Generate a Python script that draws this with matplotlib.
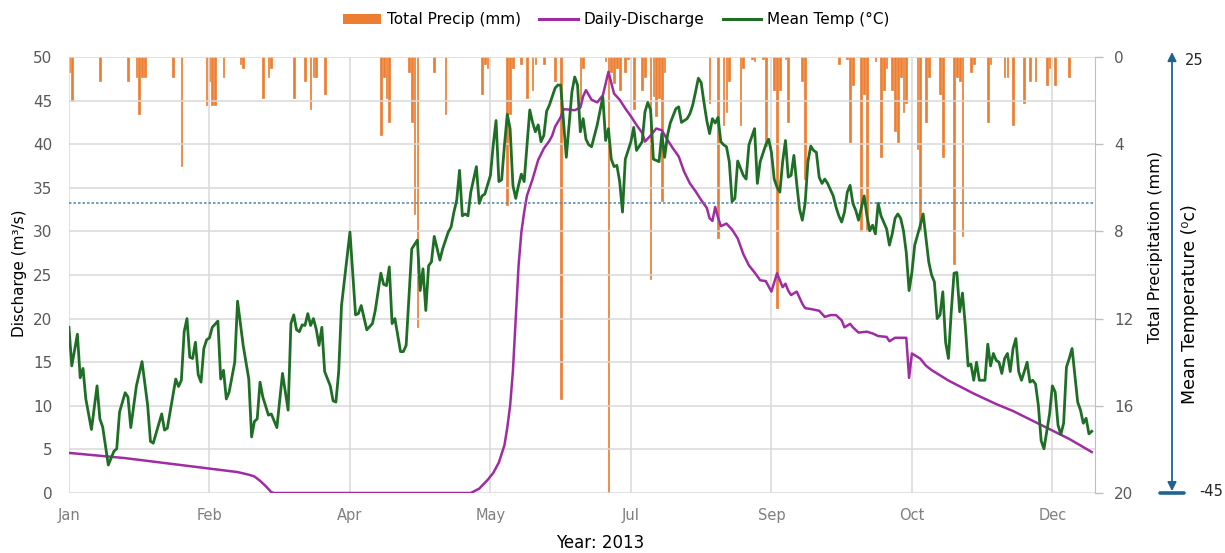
import numpy as np
import pandas as pd
import matplotlib
matplotlib.use("Agg")
import matplotlib.pyplot as plt
from matplotlib.patches import Patch
from matplotlib.lines import Line2D

# day of year (0 = 1 Jan 2013)
temp_day = [0, 1, 3, 4, 5, 6, 8, 10, 11, 12, 14, 16, 17, 18, 20, 21, 22, 24, 26, 28, 29, 30,
            33, 34, 35, 38, 39, 40, 41, 42, 43, 44, 45, 46, 47, 48, 49, 50, 51, 53, 54, 55,
            56, 57, 59, 60, 62, 64, 65, 66, 67, 68, 69, 71, 72, 74, 76, 78, 79, 80, 81, 82,
            83, 84, 85, 86, 87, 88, 89, 90, 91, 93, 94, 95, 96, 97, 100, 102, 103, 104, 106,
            108, 109, 111, 112, 113, 114, 115, 116, 118, 119, 120, 122, 123, 124, 125, 126,
            127, 128, 129, 130, 132, 133, 135, 136, 137, 138, 139, 140, 141, 142, 143, 145,
            146, 147, 148, 150, 151, 152, 153, 154, 155, 156, 157, 158, 159, 160, 161, 162,
            164, 165, 166, 167, 168, 169, 170, 171, 173, 174, 175, 177, 179, 180, 181, 182,
            183, 184, 185, 186, 188, 190, 191, 192, 193, 194, 195, 196, 197, 198, 200, 201,
            202, 204, 205, 206, 207, 208, 210, 211, 212, 213, 214, 216, 217, 218, 220, 221,
            222, 223, 224, 225, 226, 227, 228, 229, 230, 231, 232, 233, 234, 235, 236, 237,
            238, 240, 241, 242, 244, 245, 246, 248, 249, 250, 251, 252, 253, 254, 255, 256,
            257, 258, 259, 260, 261, 262, 263, 264, 265, 266, 267, 268, 269, 270, 272, 273,
            274, 275, 276, 277, 278, 279, 280, 281, 283, 284, 285, 286, 287, 288, 289, 291,
            292, 293, 294, 295, 296, 297, 298, 299, 300, 301, 303, 304, 305, 306, 307, 308,
            309, 310, 311, 312, 313, 314, 315, 316, 317, 318, 319, 320, 321, 322, 323, 324,
            326, 327, 328, 329, 330, 331, 332, 333, 334, 335, 336, 337, 338, 339, 340, 341,
            342, 343, 344, 345, 346, 347, 349, 350, 351, 352, 353, 354, 355, 356, 357, 359,
            360, 361, 362, 363, 364]
temp_c = [-18.4, -24.6, -19.5, -26.5, -25.0, -29.9, -34.8, -27.8, -33.1, -34.4, -40.5, -38.3,
          -37.9, -32.0, -28.9, -29.6, -34.5, -27.8, -23.9, -30.9, -36.7, -37.0, -32.3, -34.9,
          -34.6, -26.7, -27.9, -26.9, -19.1, -17.0, -23.2, -23.4, -20.8, -26.0, -27.2, -21.8,
          -20.4, -20.1, -18.4, -17.4, -26.7, -25.3, -29.9, -28.8, -24.0, -14.2, -21.3, -26.7,
          -36.0, -33.5, -33.1, -27.2, -29.6, -32.5, -32.3, -34.5, -25.8, -31.7, -17.8, -16.4,
          -18.8, -19.1, -18.0, -18.1, -16.2, -18.1, -17.0, -18.7, -21.3, -18.4, -25.5, -27.8,
          -30.2, -30.4, -25.5, -14.9, -3.1, -16.4, -16.2, -14.9, -18.8, -17.8, -15.7, -9.7,
          -11.5, -11.7, -8.7, -17.8, -17.0, -22.3, -22.3, -21.3, -5.8, -5.1, -4.4, -12.5,
          -9.0, -15.7, -8.5, -7.9, -3.8, -7.6, -5.8, -3.1, -2.3, 0.1, 2.0, 6.8, -0.5, -0.2,
          -0.5, 3.3, 7.4, 1.5, 2.7, 3.0, 6.0, 10.9, 14.8, 5.0, 5.3, 10.9, 15.8, 13.5, 4.4,
          2.3, 4.4, 6.2, 5.0, 16.5, 14.5, 13.0, 14.1, 11.4, 12.4, 16.3, 17.3, 20.0, 20.5,
          20.5, 8.9, 19.4, 21.8, 20.5, 13.0, 15.1, 11.8, 10.9, 10.6, 14.1, 18.6, 11.6, 13.5,
          8.6, 7.4, 7.6, 5.0, 0.1, 8.6, 11.4, 13.7, 10.0, 11.4, 16.2, 17.7, 16.5, 8.6, 8.2,
          12.7, 8.9, 12.4, 14.4, 16.7, 17.0, 14.5, 15.1, 15.9, 17.3, 19.4, 21.6, 20.9, 17.7,
          14.8, 12.7, 15.1, 14.4, 15.3, 11.4, 10.9, 10.6, 8.2, 1.8, 2.3, 8.3, 6.0, 5.4, 10.9,
          13.5, 4.7, 8.2, 10.9, 11.8, 9.7, 5.4, 4.1, 3.3, 8.2, 11.6, 5.7, 6.0, 9.2, 4.7, 0.6,
          -1.2, 1.5, 8.2, 10.7, 10.0, 9.7, 5.7, 4.7, 5.4, 4.7, 2.7, 0.9, -0.5, -1.5, 0.1,
          3.3, 4.4, 1.5, 0.4, -1.2, 2.7, -0.5, -2.9, -2.0, -3.4, 1.5, -0.5, -2.6, -5.2, -3.4,
          -0.9, -0.2, -0.9, -2.9, -6.4, -12.5, -9.6, -5.2, -2.0, -0.2, -4.1, -7.9, -10.0,
          -11.1, -17.0, -16.4, -12.7, -20.8, -23.4, -15.9, -9.7, -9.6, -15.9, -12.9, -18.1,
          -24.6, -24.3, -26.9, -24.0, -26.9, -26.9, -21.1, -24.6, -22.6, -23.7, -24.0, -25.8,
          -23.4, -22.6, -25.5, -21.8, -20.2, -25.5, -26.9, -25.5, -24.0, -27.2, -26.9, -27.5,
          -30.9, -36.6, -37.9, -32.3, -27.8, -28.8, -34.1, -35.6, -33.8, -24.8, -23.4, -21.8,
          -30.4, -31.7, -33.8, -33.0, -35.5, -35.1]

discharge_day = [0, 10, 20, 30, 40, 50, 60, 64, 66, 68, 70, 72, 73, 143, 146, 149, 151, 153,
                 155, 156, 157, 158, 159, 160, 161, 162, 163, 165, 167, 169, 171, 172, 173,
                 175, 176, 177, 180, 182, 183, 184, 186, 188, 190, 192, 194, 196, 198, 200,
                 202, 204, 205, 207, 209, 211, 213, 215, 217, 219, 221, 223, 225, 227, 228,
                 229, 230, 231, 232, 234, 236, 238, 240, 242, 244, 246, 248, 250, 252, 254,
                 255, 256, 257, 259, 261, 262, 264, 267, 269, 271, 273, 275, 276, 278, 279,
                 281, 284, 286, 288, 291, 292, 294, 298, 299, 300, 303, 305, 307, 313, 322,
                 330, 336, 346, 356, 364]
discharge = [4.6, 4.3, 4.0, 3.6, 3.2, 2.8, 2.4, 2.1, 1.9, 1.4, 0.8, 0.1, 0.0, 0.0, 0.5, 1.5,
             2.3, 3.5, 5.5, 7.5, 10.0, 14.0, 20.0, 26.0, 29.9, 32.2, 34.1, 36.0, 38.2, 39.5,
             40.4, 41.0, 42.0, 43.1, 44.0, 44.0, 43.9, 44.2, 45.5, 46.2, 45.1, 44.8, 45.6,
             48.3, 45.8, 45.1, 44.1, 43.2, 42.2, 41.3, 40.3, 41.0, 41.8, 41.6, 40.5, 39.5,
             38.6, 36.8, 35.5, 34.6, 33.6, 32.7, 31.5, 31.2, 32.8, 31.6, 30.6, 30.9, 30.2,
             29.2, 27.4, 26.1, 25.3, 24.4, 24.3, 23.1, 25.2, 23.6, 24.0, 23.2, 22.7, 23.1,
             21.7, 21.2, 21.1, 20.9, 20.2, 20.4, 20.4, 19.8, 19.0, 19.4, 19.0, 18.4, 18.5,
             18.3, 18.0, 17.9, 17.4, 17.8, 17.8, 13.2, 16.0, 15.4, 14.6, 14.1, 12.9, 11.4,
             10.2, 9.4, 7.8, 6.2, 4.7]

precip_day = [0, 1, 11, 21, 24, 25, 26, 27, 37, 40, 49, 50, 51, 52, 55, 61, 62, 69, 71, 72,
              80, 84, 86, 87, 88, 91, 111, 112, 113, 114, 121, 122, 123, 124, 130, 134, 147,
              148, 149, 156, 157, 158, 161, 163, 165, 166, 169, 173, 175, 182, 183, 191, 192,
              193, 194, 195, 196, 198, 199, 201, 204, 205, 207, 208, 209, 210, 211, 212, 228,
              231, 233, 234, 235, 239, 240, 243, 244, 247, 248, 251, 252, 253, 255, 256, 261,
              262, 274, 277, 278, 279, 282, 283, 284, 287, 289, 290, 291, 293, 294, 295, 296,
              297, 298, 302, 303, 305, 306, 310, 311, 315, 316, 317, 318, 321, 322, 327, 328,
              333, 334, 336, 340, 342, 344, 348, 349, 351, 356]
precip_mm = [0.7, 2.0, 1.1, 1.1, 0.9, 2.6, 0.9, 0.9, 0.9, 5.0, 2.2, 1.1, 2.2, 2.2, 0.9, 0.3,
             0.5, 1.9, 0.9, 0.5, 1.9, 1.1, 2.4, 0.9, 0.9, 1.7, 3.6, 0.9, 1.9, 3.0, 0.7, 3.0,
             7.2, 12.4, 0.7, 2.6, 1.7, 0.3, 0.5, 6.8, 2.6, 0.5, 0.3, 1.9, 1.5, 0.3, 0.3, 1.1,
             15.7, 2.0, 0.5, 0.2, 20.0, 0.7, 1.2, 0.5, 1.5, 0.7, 0.1, 2.4, 1.5, 0.9, 10.2, 1.8,
             2.7, 1.9, 6.6, 0.7, 2.1, 8.3, 3.1, 2.5, 1.1, 3.1, 0.5, 0.1, 0.2, 0.1, 4.1, 1.5,
             11.5, 1.5, 0.1, 3.0, 1.1, 5.6, 0.3, 0.1, 3.9, 1.3, 8.0, 1.7, 8.0, 0.2, 4.6, 1.5,
             0.5, 1.5, 3.4, 3.9, 0.9, 2.5, 2.1, 4.2, 8.0, 3.0, 0.9, 1.7, 4.6, 9.5, 0.9, 1.1,
             8.2, 0.7, 0.3, 3.0, 0.3, 0.9, 0.9, 3.1, 2.1, 1.1, 1.1, 1.3, 0.5, 1.3, 0.9]

ref_line = 33.3          # dotted reference line on the discharge scale
temp_range = (-45, 25)

tick_days = list(range(0, 351, 50))
tick_labels = [(pd.Timestamp("2013-01-01") + pd.Timedelta(days=d)).strftime("%b") for d in tick_days]

orange = "#ED7D31"
purple = "#A02CA3"
green = "#1E6E26"
arrow_col = "#1F6390"
grid_col = "#D9D9D9"
tick_col = "#595959"

fig = plt.figure(figsize=(12.25, 5.53), dpi=100)
ax = fig.add_axes([0.0563, 0.1085, 0.8372, 0.7884])
ax_p = ax.twinx()
ax_t = ax.twinx()
ax_p.set_zorder(1)
ax.set_zorder(2)
ax_t.set_zorder(3)
ax.patch.set_visible(False)
ax_t.patch.set_visible(False)

# precipitation bars hanging from the top
ax_p.bar(precip_day, precip_mm, width=0.6, color=orange, edgecolor=orange, linewidth=0.5)
ax_p.set_ylim(20, 0)
ax_p.set_yticks(range(0, 21, 4))
ax_p.tick_params(axis="y", colors=tick_col, labelsize=11, length=6, width=1, pad=8)
ax_p.tick_params(axis="y", color="#BFBFBF")
for s in ["left", "top", "bottom"]:
    ax_p.spines[s].set_visible(False)
ax_p.spines["right"].set_color("#BFBFBF")

# discharge
ax.plot(discharge_day, discharge, color=purple, lw=1.8, solid_joinstyle="round")
ax.axhline(ref_line, color="#5B8DB5", lw=1.2, linestyle=(0, (1.5, 1.2)))
ax.set_xlim(0, 365)
ax.set_ylim(0, 50)
ax.set_yticks(range(0, 51, 5))
ax.set_xticks(tick_days)
ax.set_xticklabels(tick_labels)
ax.grid(True, color=grid_col, lw=1.1)
ax.set_axisbelow(True)
for s in ax.spines.values():
    s.set_visible(False)
ax.tick_params(axis="y", length=0, labelsize=11, colors=tick_col, pad=12)
ax.tick_params(axis="x", length=0, labelsize=10.5, colors="#7F7F7F", pad=11)

# mean temperature on its own hidden scale
ax_t.plot(temp_day, temp_c, color=green, lw=2.0, solid_joinstyle="round")
ax_t.set_ylim(*temp_range)
ax_t.set_yticks([])
for s in ax_t.spines.values():
    s.set_visible(False)

# temperature scale arrow at far right
xa = 1172 / 1225
ax_t.annotate("", xy=(xa, temp_range[1] + 0.8), xytext=(xa, temp_range[0] + 0.3),
              xycoords=("figure fraction", "data"), textcoords=("figure fraction", "data"),
              arrowprops=dict(arrowstyle="<|-|>", color=arrow_col, lw=1.3,
                              shrinkA=0, shrinkB=0, mutation_scale=13))
ax_t.annotate("", xy=(1184 / 1225, temp_range[0]), xytext=(1160 / 1225, temp_range[0]),
              xycoords=("figure fraction", "data"), textcoords=("figure fraction", "data"),
              arrowprops=dict(arrowstyle="-", color=arrow_col, lw=2.6, shrinkA=0, shrinkB=0))
ax_t.annotate(str(temp_range[1]), xy=(1185 / 1225, temp_range[1] - 0.6),
              xycoords=("figure fraction", "data"), ha="left", va="center",
              fontsize=10.5, color="#262626", annotation_clip=False)
ax_t.annotate(str(temp_range[0]), xy=(1199 / 1225, temp_range[0] + 0.3),
              xycoords=("figure fraction", "data"), ha="left", va="center",
              fontsize=10.5, color="#262626", annotation_clip=False)

fig.text(0.0163, 0.505, "Discharge (m³/s)", rotation=90, ha="center", va="center", fontsize=11)
fig.text(0.943, 0.553, "Total Precipitation (mm)", rotation=90, ha="center", va="center", fontsize=11.5)
fig.text(0.9714, 0.450, "Mean Temperature (⁰c)", rotation=90, ha="center", va="center", fontsize=12.5)
fig.text(0.49, 0.018, "Year: 2013", ha="center", va="center", fontsize=12)

handles = [Patch(facecolor=orange, edgecolor="none"),
           Line2D([], [], color=purple, lw=2.2),
           Line2D([], [], color=green, lw=2.2)]
labels = ["Total Precip (mm)", "Daily-Discharge", "Mean Temp (°C)"]
fig.legend(handles, labels, loc="center", bbox_to_anchor=(0.503, 0.964), ncol=3,
           frameon=False, fontsize=11, handlelength=2.5, handleheight=0.55,
           columnspacing=1.2, handletextpad=0.4)

fig.savefig("out.png", dpi=100)
